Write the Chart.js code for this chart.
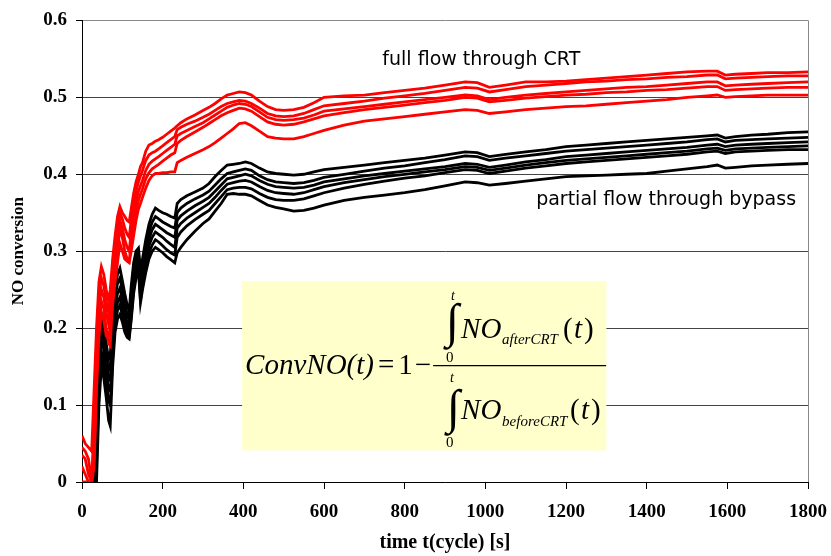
<!DOCTYPE html>
<html>
<head>
<meta charset="utf-8">
<script src="https://cdn.jsdelivr.net/npm/chart.js@4.4.1/dist/chart.umd.min.js"></script>
<style>
html,body{margin:0;padding:0;background:#fff;}
#wrap{width:831px;height:556px;position:relative;}
</style>
</head>
<body>
<div id="wrap"><canvas id="c" width="831" height="556"></canvas></div>
<script>
// time axis [s]
const time = [0,8,16,24,30,36,42,48,54,60,66,70,76,82,88,94,100,106,112,117,122,128,134,140,145,150,158,166,174,182,190,200,210,220,230,236,245,260,280,300,315,330,345,360,375,390,405,420,440,460,480,500,525,550,575,600,650,700,750,800,850,900,950,980,1010,1050,1100,1150,1200,1250,1300,1350,1400,1450,1500,1550,1575,1595,1620,1660,1700,1750,1800];

// full flow through CRT (red)
const full1 = [0.060,0.050,0.045,0.040,0.120,0.200,0.260,0.280,0.270,0.250,
 0.235,0.250,0.290,0.320,0.345,0.358,0.350,0.345,0.340,0.338,
 0.355,0.375,0.390,0.400,0.410,0.415,0.430,0.438,0.440,0.443,
 0.445,0.448,0.452,0.456,0.460,0.463,0.467,0.472,0.477,0.483,
 0.487,0.492,0.498,0.503,0.505,0.507,0.506,0.503,0.495,0.488,
 0.484,0.483,0.484,0.487,0.493,0.500,0.502,0.503,0.506,0.509,
 0.512,0.516,0.520,0.519,0.513,0.516,0.520,0.520,0.521,0.523,
 0.525,0.527,0.529,0.531,0.533,0.534,0.534,0.529,0.530,0.531,
 0.532,0.532,0.533];
const full2 = [0.045,0.040,0.030,0.000,0.080,0.180,0.245,0.265,0.255,0.235,
 0.220,0.230,0.275,0.305,0.330,0.350,0.342,0.330,0.322,0.318,
 0.340,0.362,0.378,0.390,0.398,0.405,0.418,0.425,0.428,0.430,
 0.433,0.437,0.441,0.445,0.449,0.458,0.461,0.465,0.469,0.474,
 0.478,0.483,0.488,0.492,0.494,0.496,0.495,0.492,0.486,0.479,
 0.476,0.475,0.476,0.479,0.484,0.489,0.492,0.495,0.499,0.502,
 0.505,0.509,0.513,0.512,0.507,0.510,0.514,0.516,0.518,0.520,
 0.521,0.523,0.524,0.526,0.527,0.529,0.529,0.524,0.525,0.526,
 0.527,0.528,0.528];
const full3 = [0.035,0.030,0.010,0.000,0.050,0.160,0.230,0.250,0.240,0.220,
 0.205,0.215,0.260,0.290,0.315,0.340,0.330,0.315,0.305,0.300,
 0.325,0.350,0.365,0.378,0.385,0.392,0.405,0.413,0.417,0.420,
 0.423,0.427,0.431,0.435,0.439,0.450,0.453,0.457,0.462,0.467,
 0.472,0.477,0.482,0.487,0.490,0.492,0.491,0.488,0.481,0.474,
 0.471,0.470,0.471,0.473,0.477,0.482,0.485,0.488,0.491,0.494,
 0.497,0.500,0.503,0.502,0.497,0.500,0.503,0.505,0.507,0.509,
 0.511,0.513,0.514,0.516,0.518,0.520,0.520,0.515,0.516,0.517,
 0.518,0.519,0.520];
const full4 = [0.020,0.010,0.000,0.000,0.030,0.140,0.210,0.235,0.225,0.200,
 0.180,0.177,0.240,0.275,0.300,0.330,0.318,0.300,0.290,0.287,
 0.310,0.335,0.352,0.366,0.374,0.381,0.394,0.402,0.407,0.410,
 0.413,0.417,0.421,0.425,0.428,0.440,0.444,0.449,0.455,0.461,
 0.466,0.471,0.476,0.480,0.483,0.486,0.485,0.482,0.475,0.468,
 0.465,0.464,0.465,0.468,0.472,0.476,0.480,0.484,0.487,0.490,
 0.493,0.496,0.500,0.499,0.494,0.496,0.499,0.501,0.503,0.504,
 0.506,0.507,0.509,0.510,0.512,0.514,0.514,0.509,0.510,0.511,
 0.512,0.513,0.513];
const full5 = [0.000,0.000,0.000,0.000,0.020,0.120,0.190,0.220,0.210,0.190,
 0.190,0.200,0.230,0.260,0.285,0.310,0.300,0.290,0.287,0.285,
 0.300,0.320,0.340,0.355,0.362,0.370,0.382,0.392,0.398,0.401,
 0.401,0.402,0.402,0.403,0.403,0.415,0.418,0.422,0.427,0.432,
 0.436,0.441,0.447,0.453,0.459,0.466,0.467,0.463,0.456,0.449,
 0.447,0.446,0.446,0.449,0.453,0.457,0.464,0.469,0.472,0.475,
 0.478,0.481,0.484,0.483,0.479,0.481,0.484,0.486,0.488,0.489,
 0.491,0.493,0.495,0.497,0.500,0.502,0.503,0.500,0.501,0.502,
 0.503,0.503,0.503];

// partial flow through bypass (black)
const part1 = [-0.05,-0.05,-0.05,-0.05,0.000,0.100,0.190,0.218,0.200,0.180,
 0.160,0.165,0.210,0.250,0.270,0.278,0.262,0.245,0.230,0.222,
 0.255,0.285,0.300,0.304,0.275,0.290,0.315,0.335,0.348,0.356,
 0.353,0.350,0.348,0.345,0.343,0.362,0.367,0.372,0.377,0.382,
 0.388,0.397,0.405,0.412,0.413,0.414,0.416,0.414,0.408,0.403,
 0.401,0.400,0.399,0.400,0.403,0.406,0.409,0.412,0.415,0.418,
 0.421,0.425,0.429,0.428,0.423,0.426,0.429,0.432,0.436,0.438,
 0.440,0.442,0.444,0.446,0.448,0.450,0.451,0.447,0.449,0.451,
 0.452,0.454,0.455];
const part2 = [-0.05,-0.05,-0.05,-0.05,-0.02,0.080,0.170,0.200,0.185,0.165,
 0.145,0.150,0.200,0.240,0.258,0.265,0.250,0.232,0.218,0.210,
 0.245,0.275,0.292,0.298,0.262,0.280,0.305,0.325,0.338,0.345,
 0.342,0.338,0.335,0.332,0.330,0.350,0.356,0.362,0.368,0.373,
 0.378,0.386,0.394,0.401,0.403,0.405,0.407,0.405,0.398,0.393,
 0.390,0.389,0.388,0.389,0.392,0.396,0.400,0.404,0.408,0.411,
 0.415,0.419,0.424,0.423,0.418,0.421,0.424,0.427,0.430,0.432,
 0.434,0.436,0.438,0.440,0.442,0.445,0.446,0.442,0.444,0.445,
 0.446,0.447,0.448];
const part3 = [-0.05,-0.05,-0.05,-0.05,-0.04,0.060,0.150,0.185,0.172,0.152,
 0.132,0.135,0.185,0.228,0.245,0.252,0.238,0.220,0.207,0.200,
 0.235,0.265,0.283,0.290,0.252,0.270,0.295,0.315,0.328,0.335,
 0.332,0.328,0.324,0.321,0.318,0.340,0.346,0.352,0.359,0.365,
 0.370,0.378,0.386,0.394,0.396,0.398,0.400,0.398,0.392,0.387,
 0.384,0.383,0.382,0.383,0.386,0.390,0.394,0.398,0.401,0.404,
 0.407,0.410,0.414,0.413,0.409,0.412,0.416,0.419,0.423,0.425,
 0.427,0.429,0.431,0.433,0.435,0.438,0.439,0.436,0.438,0.439,
 0.440,0.441,0.442];
const part4 = [-0.05,-0.05,-0.05,-0.05,-0.05,0.040,0.130,0.170,0.160,0.140,
 0.120,0.118,0.170,0.215,0.233,0.240,0.228,0.210,0.198,0.194,
 0.225,0.258,0.276,0.284,0.243,0.262,0.287,0.307,0.318,0.325,
 0.322,0.318,0.313,0.309,0.305,0.330,0.336,0.343,0.350,0.357,
 0.362,0.370,0.379,0.387,0.389,0.391,0.392,0.390,0.384,0.379,
 0.376,0.375,0.374,0.376,0.380,0.384,0.389,0.393,0.397,0.400,
 0.403,0.406,0.410,0.409,0.405,0.408,0.412,0.415,0.418,0.420,
 0.422,0.424,0.426,0.428,0.430,0.433,0.434,0.431,0.433,0.434,
 0.435,0.436,0.437];
const part5 = [-0.05,-0.05,-0.05,-0.05,-0.05,0.020,0.120,0.160,0.150,0.130,
 0.105,0.100,0.160,0.205,0.223,0.230,0.218,0.203,0.193,0.190,
 0.215,0.250,0.270,0.280,0.236,0.255,0.280,0.298,0.308,0.315,
 0.312,0.307,0.302,0.298,0.295,0.318,0.325,0.333,0.341,0.348,
 0.353,0.362,0.371,0.380,0.382,0.383,0.383,0.381,0.375,0.370,
 0.367,0.366,0.366,0.368,0.372,0.376,0.382,0.387,0.391,0.395,
 0.398,0.402,0.406,0.405,0.401,0.404,0.408,0.411,0.414,0.416,
 0.418,0.420,0.422,0.424,0.426,0.429,0.430,0.427,0.429,0.430,
 0.431,0.432,0.432];
const part6 = [-0.05,-0.05,-0.05,-0.05,-0.05,0.000,0.100,0.150,0.135,0.110,
 0.080,0.073,0.150,0.195,0.212,0.218,0.208,0.195,0.188,0.186,
 0.210,0.245,0.265,0.275,0.233,0.250,0.272,0.290,0.300,0.305,
 0.302,0.298,0.293,0.289,0.285,0.298,0.305,0.315,0.326,0.336,
 0.342,0.352,0.362,0.374,0.375,0.374,0.374,0.372,0.366,0.360,
 0.357,0.355,0.352,0.353,0.356,0.360,0.366,0.370,0.373,0.376,
 0.380,0.385,0.390,0.389,0.386,0.388,0.391,0.394,0.397,0.398,
 0.399,0.400,0.401,0.404,0.407,0.410,0.412,0.408,0.409,0.411,
 0.412,0.413,0.414];

const xTicks = [0,200,400,600,800,1000,1200,1400,1600,1800];
const yTicks = [0,0.1,0.2,0.3,0.4,0.5,0.6];

const fullSeries = [full1, full2, full3, full4, full5];
const partSeries = [part1, part2, part3, part4, part5, part6];

function pts(arr){ return time.map((t,i)=>({x:t, y:arr[i]})); }

const datasets = [];
fullSeries.forEach((s,i)=>datasets.push({label:'full '+(i+1), data:pts(s), borderColor:'#ff0000', borderWidth:2.8, pointRadius:0, tension:0, fill:false}));
partSeries.forEach((s,i)=>datasets.push({label:'partial '+(i+1), data:pts(s), borderColor:'#000000', borderWidth:2.8, pointRadius:0, tension:0, fill:false}));

const SERIF = '"Liberation Serif","Times New Roman",serif';
const SANS = '"DejaVu Sans",Verdana,sans-serif';

const overlay = {
  id:'overlay',
  beforeDatasetsDraw(chart){
    const {ctx, scales:{x,y}} = chart;
    const L = x.getPixelForValue(397), R = x.getPixelForValue(1300);
    const T = y.getPixelForValue(0.261), B = y.getPixelForValue(0.041);
    ctx.save();
    ctx.fillStyle = '#ffffcc';
    ctx.fillRect(L, T, R-L, B-T);
    ctx.fillStyle = '#000';
    ctx.textBaseline = 'alphabetic';
    ctx.textAlign = 'left';
    const it = 'italic 29px '+SERIF, rm = '29px '+SERIF;
    const ox = L, oy = T;
    // left part
    let cx = ox+3;
    ctx.font = it; ctx.fillText('ConvNO(t)', cx, oy+93); cx += ctx.measureText('ConvNO(t)').width + 4;
    ctx.font = rm;
    ctx.fillText('=', cx, oy+93); cx += ctx.measureText('=').width + 4;
    ctx.fillText('1', cx, oy+93); cx += ctx.measureText('1').width + 2;
    ctx.fillText('\u2212', cx, oy+93);
    // fraction bar
    ctx.strokeStyle = '#000'; ctx.lineWidth = 1.3;
    ctx.beginPath(); ctx.moveTo(ox+191, oy+84.5); ctx.lineTo(ox+364, oy+84.5); ctx.stroke();
    // numerator
    ctx.font = '48px '+SERIF; ctx.fillText('\u222B', ox+204, oy+56);
    ctx.font = 'italic 14px '+SERIF; ctx.fillText('t', ox+209, oy+19);
    ctx.font = '15px '+SERIF; ctx.fillText('0', ox+204, oy+81);
    ctx.font = it; ctx.fillText('NO', ox+219, oy+57);
    ctx.font = 'italic 15px '+SERIF; ctx.fillText('afterCRT', ox+260, oy+63);
    ctx.font = rm; ctx.fillText('(', ox+321, oy+57);
    ctx.font = it; ctx.fillText('t', ox+332, oy+57);
    ctx.font = rm; ctx.fillText(')', ox+342, oy+57);
    // denominator
    ctx.font = '48px '+SERIF; ctx.fillText('\u222B', ox+205, oy+142);
    ctx.font = 'italic 14px '+SERIF; ctx.fillText('t', ox+208, oy+101);
    ctx.font = '15px '+SERIF; ctx.fillText('0', ox+204, oy+166);
    ctx.font = it; ctx.fillText('NO', ox+219, oy+138);
    ctx.font = 'italic 15px '+SERIF; ctx.fillText('beforeCRT', ox+260, oy+145);
    ctx.font = rm; ctx.fillText('(', ox+328, oy+138);
    ctx.font = it; ctx.fillText('t', ox+339, oy+138);
    ctx.font = rm; ctx.fillText(')', ox+349, oy+138);
    ctx.restore();
  },
  afterDraw(chart){
    const {ctx, chartArea:a, scales:{x,y}} = chart;
    ctx.save();
    ctx.strokeStyle = '#888'; ctx.lineWidth = 1;
    ctx.beginPath(); ctx.moveTo(Math.round(a.right)+0.5, a.top); ctx.lineTo(Math.round(a.right)+0.5, a.bottom); ctx.stroke();
    ctx.fillStyle = '#000';
    ctx.font = '19px '+SANS;
    ctx.textBaseline = 'alphabetic';
    ctx.textAlign = 'center';
    ctx.fillText('full flow through CRT', x.getPixelForValue(990), y.getPixelForValue(0.5418));
    ctx.textAlign = 'left';
    ctx.fillText('partial flow through bypass', x.getPixelForValue(1126), y.getPixelForValue(0.3595));
    ctx.restore();
  }
};

new Chart(document.getElementById('c'), {
  type:'line',
  data:{datasets},
  plugins:[overlay],
  options:{
    responsive:false,
    animation:false,
    devicePixelRatio:1,
    layout:{padding:{left:0,right:23,top:18,bottom:0}},
    plugins:{legend:{display:false}, tooltip:{enabled:false}},
    scales:{
      x:{
        type:'linear', min:0, max:1800,
        afterBuildTicks(s){ s.ticks = xTicks.map(v=>({value:v})); },
        afterFit(s){ s.height = 74; s.paddingRight = 0; s.paddingLeft = 0; },
        ticks:{color:'#000', font:{family:SERIF, size:19, weight:'bold'}, padding:12, maxRotation:0, autoSkip:false, callback:v=>String(v)},
        grid:{drawOnChartArea:false, drawTicks:true, tickLength:7, tickColor:'#000'},
        border:{color:'#000', width:1},
        title:{display:true, text:'time t(cycle) [s]', color:'#000', font:{family:SERIF, size:20, weight:'bold'}, padding:{top:0,bottom:1}}
      },
      y:{
        type:'linear', min:0, max:0.6,
        afterBuildTicks(s){ s.ticks = yTicks.map(v=>({value:v})); },
        afterFit(s){ s.width = 82; },
        ticks:{color:'#000', font:{family:SERIF, size:19, weight:'bold'}, padding:9, callback:v=> v===0 ? '0' : v.toFixed(1)},
        grid:{color:(c)=> c.tick && Math.abs(c.tick.value-0.6)<1e-9 ? '#888' : '#444', drawTicks:true, tickLength:6, tickColor:'#000', lineWidth:1},
        border:{color:'#000', width:1},
        title:{display:true, text:'NO conversion', color:'#000', font:{family:SERIF, size:17, weight:'bold'}, padding:{top:8,bottom:0}}
      }
    }
  }
});
</script>
</body>
</html>
